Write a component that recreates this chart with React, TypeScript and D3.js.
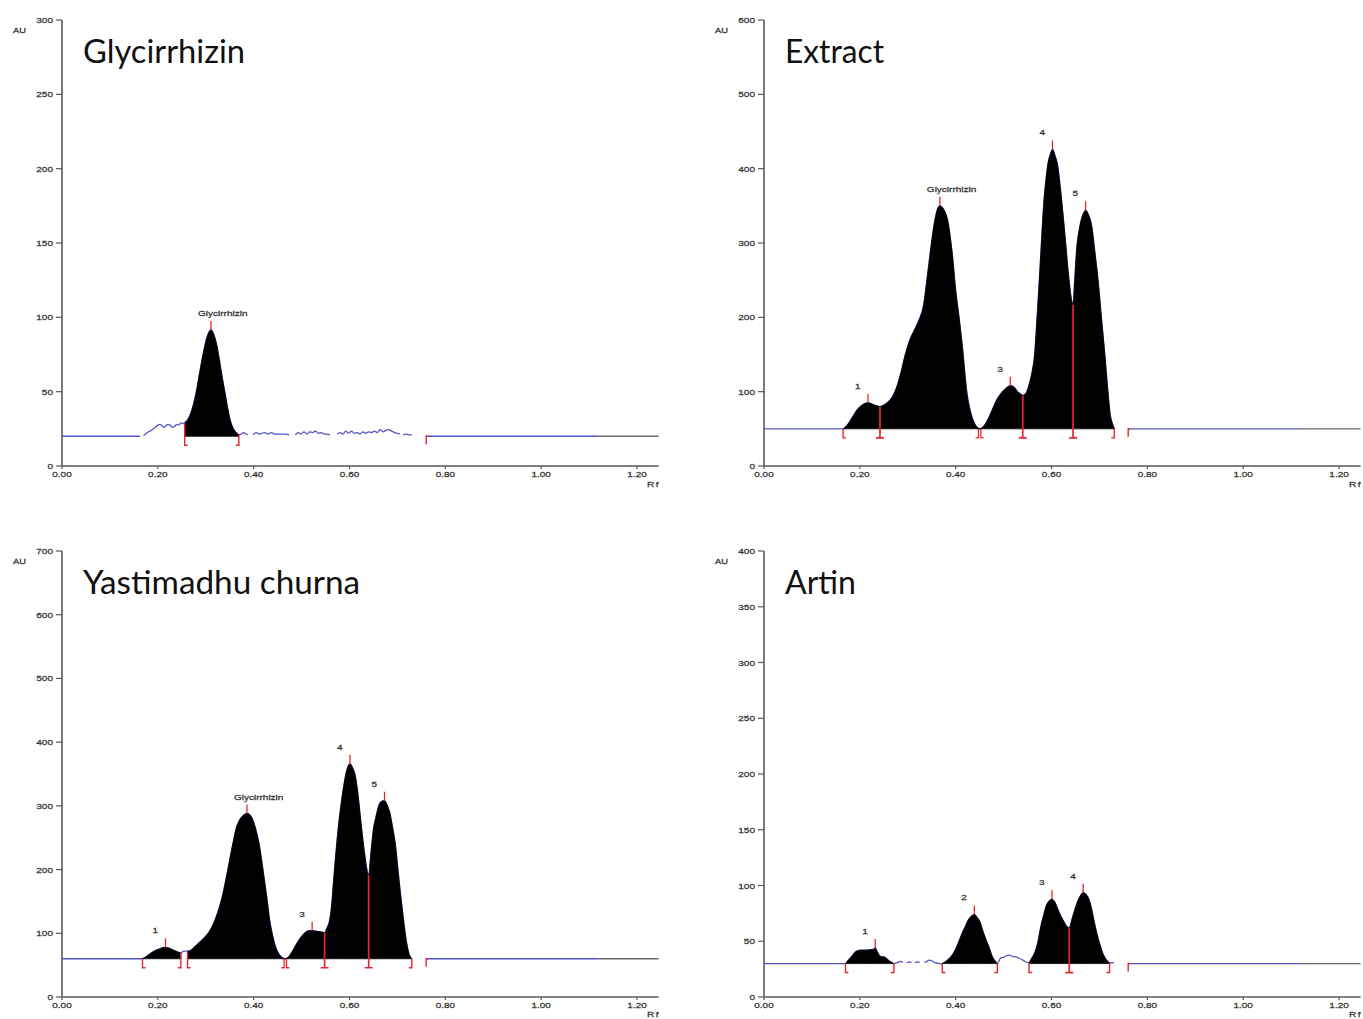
import React from "react";
import * as d3 from "d3";

type Pt = [number, number | null];

// ---------- shared axis values ----------
const xTickValues = [0, 0.2, 0.4, 0.6, 0.8, 1.0, 1.2];
const titles = ["Glycirrhizin", "Extract", "Yastimadhu churna", "Artin"];
const yMaxes = [300, 600, 700, 400];
const yTickSteps = [50, 100, 100, 50];
const baselines = [20, 50, 60, 30];
const tailStartRf = 0.76;
const tailBlueEndRf = 1.12;

// ---------- Panel 1: Glycirrhizin standard ----------
const glyTrace: Pt[] = [
  [0, 20], [0.163, 20], [0.166, null],
  [0.17, 20.5], [0.176, 22], [0.181, 23], [0.187, 24], [0.193, 25.5], [0.198, 27], [0.204, 28],
  [0.209, 27], [0.213, 26], [0.218, 27.5], [0.222, 28], [0.227, 27], [0.231, 26], [0.236, 27],
  [0.24, 28], [0.244, 27.5], [0.248, 29], [0.252, 28.5], [0.256, 29],
  [0.262, 31], [0.267, 34], [0.274, 41], [0.281, 51], [0.288, 64], [0.295, 76], [0.303, 87],
  [0.311, 91.5], [0.316, 89], [0.322, 82.5], [0.328, 72], [0.333, 62], [0.339, 51], [0.345, 40],
  [0.35, 32], [0.356, 26], [0.362, 23], [0.369, 21],
  [0.374, 21.5], [0.379, 22.5], [0.384, 21.5], [0.388, 21], [0.392, null],
  [0.399, 21], [0.405, 22.5], [0.411, 21.5], [0.417, 22], [0.423, 22.5], [0.43, 21.5], [0.437, 22.5],
  [0.443, 21.5], [0.45, 21.5], [0.458, 21.5], [0.466, 21.5], [0.474, 21], [0.479, null],
  [0.487, 21], [0.493, 22.5], [0.499, 21.5], [0.505, 23], [0.511, 21.5], [0.517, 23], [0.523, 22.5],
  [0.529, 23.5], [0.535, 22], [0.541, 22.5], [0.547, 21.5], [0.553, 21.5], [0.559, 21], [0.565, null],
  [0.574, 21.5], [0.58, 22.5], [0.586, 21.5], [0.592, 23.5], [0.598, 22], [0.604, 23.5], [0.61, 22],
  [0.616, 22.5], [0.622, 21.5], [0.628, 23], [0.634, 22], [0.64, 23], [0.646, 22.5], [0.652, 23.5],
  [0.658, 22.5], [0.664, 24.5], [0.67, 23], [0.676, 24], [0.682, 24.5], [0.688, 23.5], [0.694, 22.5],
  [0.7, 22], [0.705, 21.5], [0.708, null],
  [0.712, 21], [0.718, 21.5], [0.724, 21], [0.73, 21],
];
const glyRegions: [number, number][] = [[0.256, 0.369]];
const glyStarts = [0.256];
const glyEnds = [0.369];
const glyJoins: number[] = [];
const glySplits: number[] = [];
const glyPeakRf = [0.311];
const glyPeakLabels = ["Glycirrhizin"];

// ---------- Panel 2: Extract ----------
const extTrace: Pt[] = [
  [0, 50], [0.165, 50], [0.175, 56], [0.185, 66], [0.195, 76], [0.205, 82], [0.217, 85],
  [0.23, 82], [0.242, 80], [0.255, 84], [0.268, 93], [0.277, 106], [0.286, 126], [0.295, 150],
  [0.304, 169], [0.314, 183], [0.324, 197], [0.333, 216], [0.34, 250], [0.348, 292], [0.357, 332],
  [0.363, 347], [0.367, 350], [0.375, 345], [0.383, 331], [0.392, 290], [0.401, 230], [0.407, 200],
  [0.414, 160], [0.423, 100], [0.432, 70], [0.441, 55], [0.45, 50],
  [0.458, 53], [0.467, 62], [0.476, 75], [0.485, 88], [0.494, 97], [0.504, 104], [0.514, 108],
  [0.522, 106], [0.529, 100], [0.535, 97], [0.54, 95], [0.547, 98], [0.554, 111], [0.56, 128],
  [0.565, 151], [0.569, 190], [0.573, 232], [0.579, 300], [0.584, 354], [0.589, 388], [0.593, 408],
  [0.598, 420], [0.602, 426], [0.607, 418], [0.613, 403], [0.619, 370], [0.625, 331], [0.63, 295],
  [0.635, 259], [0.645, 217], [0.648, 245], [0.653, 295], [0.658, 318], [0.662, 331], [0.667, 340],
  [0.671, 344], [0.677, 338], [0.684, 322], [0.69, 290], [0.697, 250], [0.704, 200], [0.711, 151],
  [0.717, 105], [0.722, 71], [0.727, 57], [0.731, 50],
];
const extRegions: [number, number][] = [[0.165, 0.45], [0.45, 0.731]];
const extStarts = [0.165];
const extEnds = [0.731];
const extJoins = [0.45];
const extSplits = [0.242, 0.54, 0.645];
const extPeakRf = [0.217, 0.367, 0.514, 0.602, 0.671];
const extPeakLabels = ["1", "Glycirrhizin", "3", "4", "5"];

// ---------- Panel 3: Yastimadhu churna ----------
const yasTrace: Pt[] = [
  [0, 60], [0.165, 60], [0.168, 60], [0.177, 64], [0.186, 69], [0.195, 73], [0.204, 75.5],
  [0.211, 77.5], [0.216, 78], [0.222, 77], [0.231, 74], [0.24, 71], [0.248, 69], [0.254, 72],
  [0.262, 72], [0.268, 73], [0.276, 78], [0.286, 85], [0.297, 93], [0.307, 102], [0.315, 113],
  [0.322, 126], [0.329, 142], [0.336, 162], [0.343, 188], [0.35, 215], [0.357, 242], [0.363, 263],
  [0.37, 277], [0.377, 284], [0.386, 288], [0.393, 285], [0.4, 274], [0.406, 258], [0.412, 237],
  [0.417, 212], [0.422, 185], [0.428, 152], [0.433, 122], [0.439, 98], [0.445, 80], [0.452, 68],
  [0.459, 62], [0.466, 60], [0.473, 63], [0.482, 73], [0.491, 85], [0.5, 95], [0.509, 102],
  [0.516, 104], [0.524, 104], [0.532, 103], [0.541, 102], [0.548, 101], [0.553, 108], [0.559, 122],
  [0.563, 145], [0.566, 174], [0.571, 220], [0.577, 268], [0.583, 305], [0.588, 331], [0.594, 355],
  [0.601, 366], [0.606, 360], [0.612, 347], [0.618, 315], [0.623, 279], [0.628, 245], [0.632, 221],
  [0.64, 191], [0.645, 228], [0.65, 263], [0.656, 285], [0.661, 300], [0.667, 307], [0.673, 308],
  [0.679, 300], [0.684, 289], [0.69, 265], [0.696, 237], [0.701, 200], [0.706, 164], [0.712, 125],
  [0.718, 90], [0.724, 68], [0.73, 60],
];
const yasRegions: [number, number][] = [[0.168, 0.248], [0.262, 0.466], [0.466, 0.73]];
const yasStarts = [0.168, 0.262];
const yasEnds = [0.248, 0.73];
const yasJoins = [0.466];
const yasSplits = [0.548, 0.64];
const yasPeakRf = [0.216, 0.386, 0.522, 0.601, 0.673];
const yasPeakLabels = ["1", "Glycirrhizin", "3", "4", "5"];

// ---------- Panel 4: Artin ----------
const artTrace: Pt[] = [
  [0, 30], [0.165, 30], [0.17, 30], [0.175, 32.5], [0.18, 35], [0.186, 38], [0.191, 40.5],
  [0.196, 41.5], [0.202, 42], [0.208, 42], [0.215, 42], [0.221, 42.3], [0.228, 42.6], [0.232, 44],
  [0.237, 40], [0.242, 36.6], [0.247, 36], [0.252, 35.7], [0.257, 34], [0.262, 32], [0.267, 31],
  [0.271, 30],
  [0.275, 30.5], [0.28, 31], [0.285, 32], [0.29, 31], [0.294, null],
  [0.298, 30.5], [0.303, 31.5], [0.308, 30.8], [0.311, null],
  [0.315, 30.5], [0.32, 31.5], [0.325, 31], [0.33, null],
  [0.335, 31], [0.34, 32], [0.345, 33], [0.35, 32.5], [0.355, 31], [0.36, 30.5], [0.366, 30],
  [0.372, 30], [0.38, 32], [0.388, 35], [0.395, 39], [0.401, 44], [0.407, 50], [0.414, 57.6],
  [0.42, 63], [0.427, 69.6], [0.433, 72.5], [0.439, 74], [0.445, 71], [0.45, 68], [0.456, 60],
  [0.463, 51.6], [0.47, 44], [0.476, 36.6], [0.481, 33], [0.487, 30],
  [0.494, 35], [0.5, 35.5], [0.506, 37], [0.512, 37.5], [0.518, 36.5], [0.525, 36], [0.531, 35],
  [0.538, 33.6], [0.544, 32], [0.553, 30.6],
  [0.559, 35], [0.565, 39.6], [0.571, 48], [0.578, 63.6], [0.584, 74], [0.589, 81.6], [0.595, 86],
  [0.601, 87.6], [0.607, 85], [0.613, 78.6], [0.62, 72], [0.627, 66.6], [0.632, 63], [0.637, 62],
  [0.643, 70], [0.649, 78.6], [0.654, 85], [0.658, 89], [0.662, 92], [0.666, 93.6], [0.672, 92],
  [0.678, 87.6], [0.683, 80], [0.688, 69.6], [0.695, 56], [0.702, 45.6], [0.708, 38], [0.714, 33.6],
  [0.718, 31.5], [0.721, 30.6], [0.726, 30.5], [0.73, 31],
];
const artRegions: [number, number][] = [[0.17, 0.271], [0.372, 0.487], [0.553, 0.721]];
const artStarts = [0.17, 0.372, 0.553];
const artEnds = [0.271, 0.487, 0.721];
const artJoins: number[] = [];
const artSplits = [0.637];
const artPeakRf = [0.232, 0.439, 0.601, 0.666];
const artPeakLabels = ["1", "2", "3", "4"];

// ---------- layout ----------
const X_END = 1.245;
const PLOT_W = 596.6;
const PLOT_H = 446;
const lefts = [62, 764, 62, 764];
const tops = [20, 20, 551, 551];
const titleWidths = [162, 99, 277, 71];

const panels = [
  { trace: glyTrace, regions: glyRegions, starts: glyStarts, ends: glyEnds, joins: glyJoins, splits: glySplits, peakRf: glyPeakRf, peakLabels: glyPeakLabels },
  { trace: extTrace, regions: extRegions, starts: extStarts, ends: extEnds, joins: extJoins, splits: extSplits, peakRf: extPeakRf, peakLabels: extPeakLabels },
  { trace: yasTrace, regions: yasRegions, starts: yasStarts, ends: yasEnds, joins: yasJoins, splits: yasSplits, peakRf: yasPeakRf, peakLabels: yasPeakLabels },
  { trace: artTrace, regions: artRegions, starts: artStarts, ends: artEnds, joins: artJoins, splits: artSplits, peakRf: artPeakRf, peakLabels: artPeakLabels },
];

const BLUE = "#5454c4";
const RED = "#e8252f";
const AXIS = "#595959";
const TXT = "#333";
const SMALL_FONT = "'Liberation Sans', Arial, sans-serif";

function auAt(trace: Pt[], rf: number): number {
  const pts = trace.filter((d) => d[1] !== null) as [number, number][];
  for (let i = 0; i < pts.length - 1; i++) {
    const [x0, y0] = pts[i];
    const [x1, y1] = pts[i + 1];
    if (rf >= x0 - 1e-9 && rf <= x1 + 1e-9) {
      if (x1 === x0) return y0;
      return y0 + ((rf - x0) / (x1 - x0)) * (y1 - y0);
    }
  }
  return pts[pts.length - 1][1];
}

function SmallText({ x, y, children, anchor = "start", sx = 1.25, size = 8, spacing = 0 }: any) {
  return (
    <text
      transform={`translate(${x},${y}) scale(${sx},1)`}
      textAnchor={anchor}
      fontFamily={SMALL_FONT}
      fontSize={size}
      fill={TXT}
      stroke={TXT}
      strokeWidth={0.25}
      letterSpacing={spacing}
    >
      {children}
    </text>
  );
}

function Panel({ idx }: { idx: number }) {
  const p = panels[idx];
  const left = lefts[idx];
  const top = tops[idx];
  const base = baselines[idx];
  const yMax = yMaxes[idx];
  const x = d3.scaleLinear().domain([0, X_END]).range([left, left + PLOT_W]);
  const y = d3.scaleLinear().domain([0, yMax]).range([top + PLOT_H, top]);
  const bottom = top + PLOT_H;
  const yb = y(base);

  const line = d3
    .line<Pt>()
    .defined((d) => d[1] !== null)
    .x((d) => x(d[0]))
    .y((d) => y(d[1] as number))
    .curve(d3.curveMonotoneX);

  const area = d3
    .area<Pt>()
    .x((d) => x(d[0]))
    .y0(yb)
    .y1((d) => y(d[1] as number))
    .curve(d3.curveMonotoneX);

  const yTicks = d3.range(0, yMax + 1, yTickSteps[idx]);
  const drop = 9;

  return (
    <g>
      {/* Title */}
      <text
        x={left + 21}
        y={top + 43}
        fontFamily="Lato, 'Open Sans', sans-serif"
        fontSize={32}
        fill="#111"
        textLength={titleWidths[idx]}
        lengthAdjust="spacingAndGlyphs"
      >
        {titles[idx]}
      </text>
      {/* AU label */}
      <SmallText x={left - 49} y={top + 13} size={7.5}>AU</SmallText>

      {/* Axes */}
      <line x1={left} x2={left} y1={top} y2={bottom} stroke={AXIS} strokeWidth={1.6} />
      <line x1={left} x2={left + PLOT_W} y1={bottom} y2={bottom} stroke={AXIS} strokeWidth={1.6} />
      {yTicks.map((t) => (
        <g key={"y" + t}>
          <line x1={left - 6} x2={left} y1={y(t)} y2={y(t)} stroke={AXIS} strokeWidth={1.2} />
          <SmallText x={left - 9} y={y(t) + 3} anchor="end">{String(t)}</SmallText>
        </g>
      ))}
      {xTickValues.map((t) => (
        <g key={"x" + t}>
          <line x1={x(t)} x2={x(t)} y1={bottom} y2={bottom + 3} stroke={AXIS} strokeWidth={1.2} />
          <SmallText x={x(t)} y={bottom + 11} anchor="middle">{t.toFixed(2)}</SmallText>
        </g>
      ))}
      <SmallText x={left + 585} y={Math.min(bottom + 21, 1017)} spacing={1.2}>Rf</SmallText>

      {/* trace (blue) */}
      <path d={line(p.trace) || ""} fill="none" stroke={BLUE} strokeWidth={1.3} />

      {/* integrated peaks (black) */}
      {p.regions.map(([a, b], i) => {
        const pts = p.trace.filter((d) => d[1] !== null && d[0] >= a - 1e-9 && d[0] <= b + 1e-9);
        return <path key={"r" + i} d={area(pts) || ""} fill="#000" stroke="#000" strokeWidth={0.8} />;
      })}

      {/* tail baseline */}
      <line x1={x(tailStartRf)} x2={x(tailBlueEndRf)} y1={yb} y2={yb} stroke={BLUE} strokeWidth={1.3} />
      <line x1={x(tailBlueEndRf)} x2={x(X_END)} y1={yb} y2={yb} stroke="#6a6a6a" strokeWidth={1.3} />
      <path d={`M${x(tailStartRf) + 2},${yb} H${x(tailStartRf)} V${yb + 8}`} fill="none" stroke={RED} strokeWidth={1.4} />

      {/* boundary markers */}
      {p.starts.map((r, i) => {
        const xx = x(r);
        return (
          <path key={"s" + i} d={`M${xx},${y(auAt(p.trace, r))} V${yb + drop} H${xx + 3}`} fill="none" stroke={RED} strokeWidth={1.4} />
        );
      })}
      {p.ends.map((r, i) => {
        const xx = x(r);
        return (
          <path key={"e" + i} d={`M${xx},${y(auAt(p.trace, r))} V${yb + drop} H${xx - 3}`} fill="none" stroke={RED} strokeWidth={1.4} />
        );
      })}
      {p.joins.map((r, i) => {
        const xx = x(r);
        return (
          <path
            key={"j" + i}
            d={`M${xx - 1.2},${yb} V${yb + drop} H${xx - 4} M${xx + 1.2},${yb} V${yb + drop} H${xx + 4}`}
            fill="none"
            stroke={RED}
            strokeWidth={1.3}
          />
        );
      })}
      {p.splits.map((r, i) => {
        const xx = x(r);
        return (
          <path
            key={"p" + i}
            d={`M${xx},${y(auAt(p.trace, r))} V${yb + drop} M${xx - 4},${yb + drop} H${xx + 4}`}
            fill="none"
            stroke={RED}
            strokeWidth={1.7}
          />
        );
      })}

      {/* peak maxima ticks & labels */}
      {p.peakRf.map((r, i) => {
        const xx = x(r);
        const yy = y(auAt(p.trace, r));
        return (
          <g key={"k" + i}>
            <line x1={xx} x2={xx} y1={yy} y2={yy - 9} stroke={RED} strokeWidth={1.3} />
            <SmallText x={xx - 13} y={yy - 14}>{p.peakLabels[i]}</SmallText>
          </g>
        );
      })}
    </g>
  );
}

export default function App() {
  return (
    <svg
      width={1363}
      height={1019}
      style={{ position: "absolute", left: 0, top: 0, background: "#fff" }}
    >
      <rect x={0} y={0} width={1363} height={1019} fill="#fff" />
      {panels.map((_, i) => (
        <Panel key={i} idx={i} />
      ))}
    </svg>
  );
}
